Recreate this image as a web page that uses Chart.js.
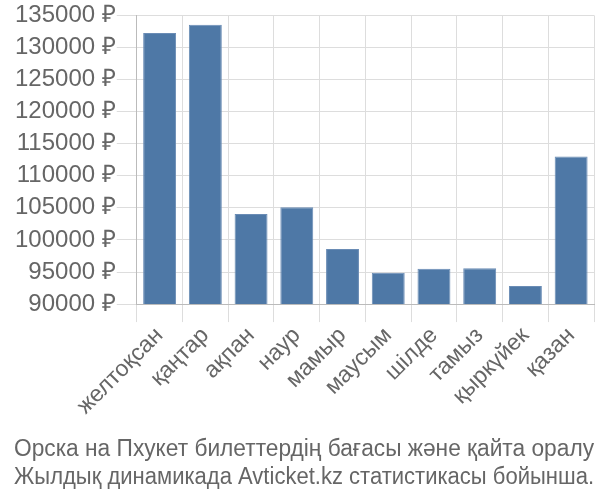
<!DOCTYPE html>
<html>
<head>
<meta charset="utf-8">
<script src="https://cdn.jsdelivr.net/npm/chart.js@4"></script>
<style>
html,body{margin:0;padding:0;background:#fff;}
canvas{display:block;}
</style>
</head>
<body>
<canvas id="c" width="600" height="500"></canvas>
<script>
const categories = ["желтоқсан","қаңтар","ақпан","наур","мамыр","маусым","шілде","тамыз","қыркүйек","қазан"];
const prices = [132250, 133550, 104050, 105100, 98600, 94900, 95500, 95600, 92800, 113000];
const titleLines = ["Орска на Пхукет билеттердің бағасы және қайта оралу","Жылдық динамикада Avticket.kz статистикасы бойынша."];
const currency = " ₽";

Chart.defaults.font.family = "'Liberation Sans', Arial, sans-serif";
Chart.defaults.color = "#666";

new Chart(document.getElementById("c"), {
  type: "bar",
  data: {
    labels: categories,
    datasets: [{
      data: prices,
      backgroundColor: "#4e78a6",
      borderColor: "#6a8cb5",
      borderWidth: 1
    }]
  },
  options: {
    responsive: false,
    animation: false,
    layout: { padding: { top: 0, right: 6, left: 14, bottom: 0 } },
    plugins: {
      legend: { display: false },
      tooltip: { enabled: false },
      title: {
        display: true,
        position: "bottom",
        text: titleLines,
        color: "#666",
        font: { size: 23.3, weight: "normal" },
        padding: { top: 6, bottom: 8 },
        lineHeight: 1.2
      }
    },
    scales: {
      x: {
        grid: { color: "#ddd", tickLength: 18, offset: true },
        border: { color: "#bbb" },
        ticks: { font: { size: 23 }, maxRotation: 45, minRotation: 45, padding: 0 },
        afterFit: s => { s.height = 126; }
      },
      y: {
        min: 90000,
        max: 135000,
        grid: { color: "#ddd", tickLength: 20 },
        border: { color: "#bbb" },
        ticks: {
          stepSize: 5000,
          font: { size: 24 },
          padding: 1,
          callback: v => v + currency
        }
      }
    }
  }
});
</script>
</body>
</html>
